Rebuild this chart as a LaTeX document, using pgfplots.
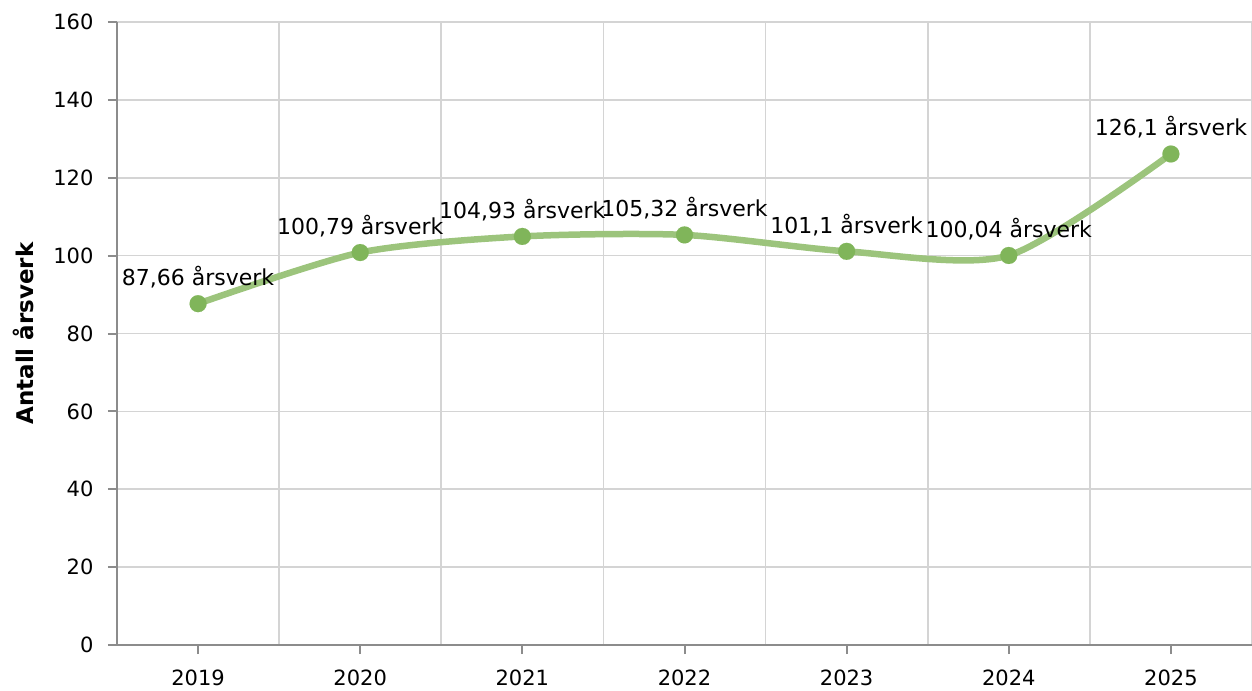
\documentclass[border=0pt]{standalone}
\usepackage{fontspec}
\setmainfont{DejaVu Sans}
\usepackage{pgfplots}
\pgfplotsset{compat=1.18}
\definecolor{linegreen}{HTML}{9CC47C}
\definecolor{markgreen}{HTML}{80B55A}
\definecolor{gridgray}{HTML}{D4D4D4}
\definecolor{axisgray}{HTML}{8C8C8C}
\begin{document}
\begin{tikzpicture}
\begin{axis}[name=ax, scale only axis, width=1135pt, height=623pt,
  xmin=-0.5, xmax=6.5, ymin=0, ymax=160,
  xtick={0,1,2,3,4,5,6},
  xticklabels={2019,2020,2021,2022,2023,2024,2025},
  minor xtick={-0.5,0.5,1.5,2.5,3.5,4.5,5.5,6.5},
  xminorgrids, minor tick length=0pt,
  ytick={0,20,...,160}, ymajorgrids,
  axis x line*=bottom, axis y line*=left,
  axis line style={axisgray, line width=2pt, -},
  major tick style={axisgray, line width=2pt},
  major tick length=9pt, tick align=outside,
  grid style={gridgray, line width=1.6pt},
  font=\fontsize{20.7}{24}\selectfont,
  ticklabel style={font=\fontsize{21}{24}\selectfont},
  yticklabel style={xshift=-11pt},
  xticklabel style={yshift=-12.5pt},
  /pgf/number format/assume math mode=true,
  ylabel={\bfseries Antall årsverk},
  ylabel style={at={(axis description cs:-0.0828,0.5)}, anchor=center, font=\fontsize{23}{26}\selectfont},
  clip=false,
]
\addplot[linegreen, line width=6.5pt, smooth, tension=0.45,
  mark=*, mark size=8.5pt, mark options={fill=markgreen, draw=markgreen, line width=0.1pt},
  point meta=explicit symbolic,
  nodes near coords={\pgfplotspointmeta{} årsverk},
  every node near coord/.style={anchor=base, yshift=18pt, black, inner sep=0pt, font=\fontsize{22}{24}\selectfont},
] table[meta=lab, row sep=\\] {
x y lab \\
0 87.66 87,66 \\
1 100.79 100,79 \\
2 104.93 104,93 \\
3 105.32 105,32 \\
4 101.1 101,1 \\
5 100.04 100,04 \\
6 126.1 126,1 \\
};
\end{axis}
\pgfresetboundingbox
\path[use as bounding box] ([xshift=-117pt,yshift=-45pt]ax.south west) rectangle ([yshift=22pt]ax.north east);
\end{tikzpicture}
\end{document}
